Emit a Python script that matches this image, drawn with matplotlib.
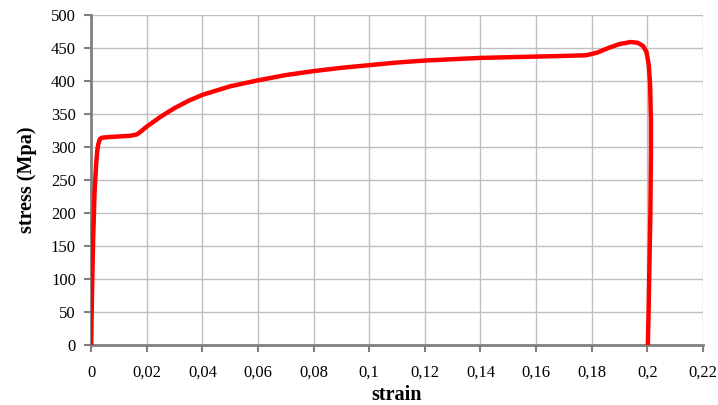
from matplotlib import pyplot as plt
import matplotlib.ticker as tck
import numpy as np

# curve
strain = [0, 0.0003, 0.0007, 0.0012, 0.0018, 0.0022, 0.0026, 0.0031, 0.0038, 0.006,
          0.01, 0.014, 0.0164, 0.018, 0.02, 0.025, 0.03, 0.035, 0.04, 0.05,
          0.06, 0.07, 0.08, 0.09, 0.1, 0.11, 0.12, 0.13, 0.14, 0.15,
          0.16, 0.17, 0.178, 0.182, 0.186, 0.19, 0.194, 0.1965, 0.1985, 0.1997,
          0.2005, 0.201, 0.2013, 0.2013, 0.2011, 0.2008, 0.2005, 0.2002]
stress = [0, 80, 160, 230, 275, 295, 305, 312, 314, 315,
          316, 317, 319, 324, 331, 346, 359, 370, 379, 392,
          401, 409, 415, 420, 424, 428, 431, 433, 435, 436,
          437, 438, 439, 443, 450, 456, 459, 458, 453, 444,
          425, 395, 340, 290, 200, 130, 60, 0]

xticks = np.arange(0, 0.2201, 0.02)
yticks = np.arange(0, 501, 50)

plt.rcParams['font.family'] = 'Liberation Serif'

fig = plt.figure(figsize=(7.18, 4.05), dpi=100)
ax1 = fig.add_axes([0.127, 0.148, 0.852, 0.815])

ax1.plot(strain, stress, color='#ff0000', linewidth=3.2, solid_capstyle='butt', zorder=3)

ax1.set_xlim(0, 0.22)
ax1.set_ylim(0, 500)
ax1.set_xticks(xticks)
ax1.set_yticks(yticks)
ax1.xaxis.set_major_formatter(tck.FuncFormatter(lambda v, p: ('%g' % round(v, 2)).replace('.', ',')))
ax1.grid(True, color='#bfbfbf', linewidth=1)
ax1.set_axisbelow(True)

for s in ['top', 'right']:
    ax1.spines[s].set_visible(False)
for s in ['left', 'bottom']:
    ax1.spines[s].set_color('#808080')
    ax1.spines[s].set_linewidth(2)

ax1.tick_params(direction='out', length=5, width=1.5, color='#808080', labelsize=12, pad=6)
ax1.tick_params(axis='x', pad=9)

ax1.set_xlabel('strain', fontsize=14.5, fontweight='bold', labelpad=3)
ax1.set_ylabel('stress (Mpa)', fontsize=14.5, fontweight='bold', labelpad=10)

plt.savefig('out.png', dpi=100)
